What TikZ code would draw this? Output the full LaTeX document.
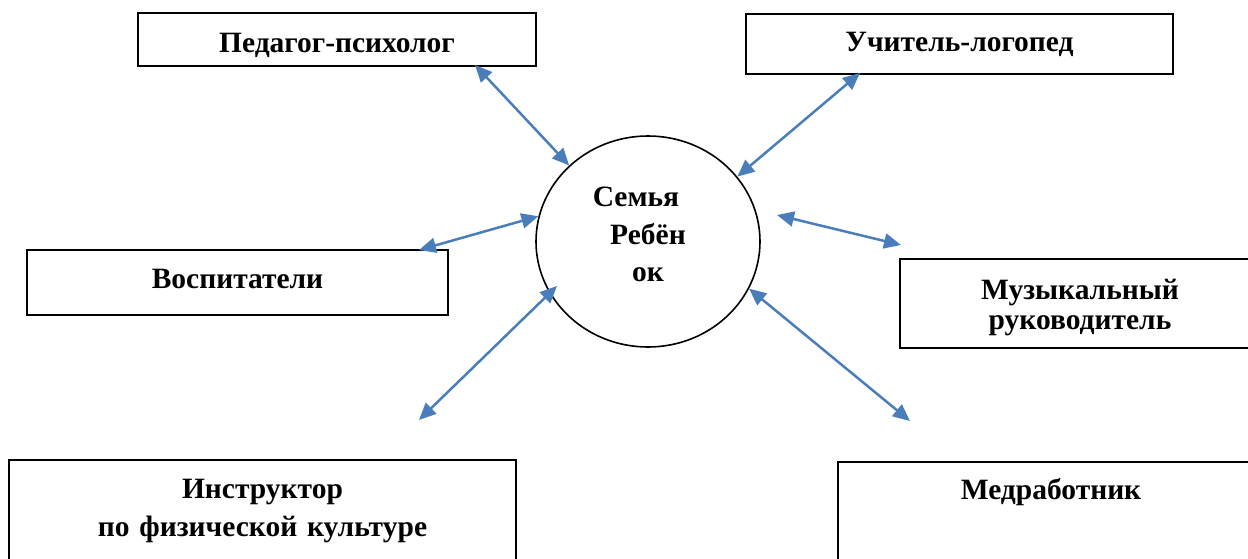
\documentclass[tikz,border=0pt]{standalone}
\usepackage{fontspec}
\setmainfont{Liberation Serif}
\usetikzlibrary{shapes.geometric, arrows.meta}
\definecolor{linkblue}{RGB}{74,126,187}
\tikzstyle{box} = [rectangle, anchor=north, draw=black, line width=2pt, inner ysep=0pt, inner xsep=4pt, align=center, font=\fontsize{29.5}{38}\selectfont\bfseries]
\tikzstyle{family} = [ellipse, draw=black, line width=1.6pt, inner sep=0pt, minimum width=224pt, minimum height=211pt, align=center, font=\fontsize{29.5}{37.5}\selectfont\bfseries]
\tikzstyle{arrow} = [line width=2.5pt, <->, >={Triangle[length=17pt,width=15pt]}, draw=linkblue]

\begin{document}
\begin{tikzpicture}[x=1pt, y=-1pt]
			\useasboundingbox (0,0) rectangle (1248,559);
			\clip (0,0) rectangle (1248,559);
			\node(psych)[box, text width=390pt, text height=39.5pt, text depth=13.5pt] at (337,12) {Педагог-психолог};
			\node(logo)[box, text width=419pt, text height=38pt, text depth=22pt] at (959.5,13) {Учитель-логопед};
			\node(vosp)[box, text width=413pt, text height=38pt, text depth=27pt] at (237.5,249) {Воспитатели};
			\node(music)[box, text width=352pt, text height=40pt, text depth=49pt, font=\fontsize{29.5}{30}\selectfont\bfseries] at (1080,258) {Музыкальный\\руководитель};
			\node(fizo)[box, text width=499pt, text height=38pt, text depth=68pt] at (262.5,459) {Инструктор\\по физической культуре};
			\node(med)[box, text width=418pt, text height=37pt, text depth=80pt] at (1051,461) {Медработник};
			\node(family)[family, text width=130pt, text height=25.5pt, text depth=94.5pt] at (648,241.5) {Семья\rule{24pt}{0pt}\\Ребён\\ок};
			% free ends of the links
			\coordinate (psychend) at (475,65);
			\coordinate (logoend) at (860,73);
			\coordinate (vospend) at (419,250);
			\coordinate (musicend) at (901,245);
			\coordinate (musicin) at (777,215);
			\coordinate (fizoend) at (419,420);
			\coordinate (fizoin) at (557,286);
			\coordinate (medend) at (910,421);
			\draw [arrow] (psychend) -- (family.136);
			\draw [arrow] (logoend) -- (family.36);
			\draw [arrow] (vospend) -- (family.167);
			\draw [arrow] (musicin) -- (musicend);
			\draw [arrow] (fizoend) -- (fizoin);
			\draw [arrow] (family.335) -- (medend);
		\end{tikzpicture}
\end{document}
